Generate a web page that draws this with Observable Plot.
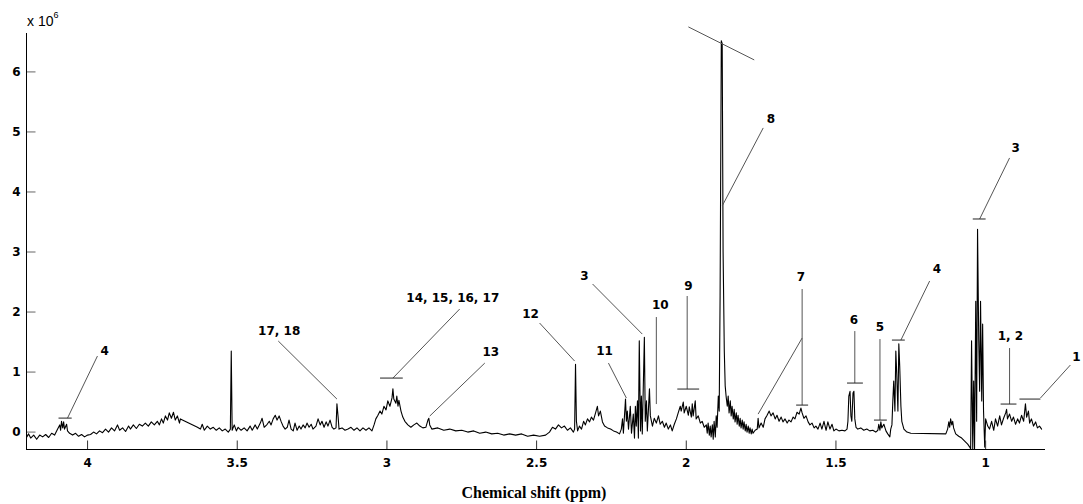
<!DOCTYPE html>
<html>
<head>
<meta charset="utf-8">
<script src="https://cdn.jsdelivr.net/npm/d3@7"></script>
<script src="https://cdn.jsdelivr.net/npm/@observablehq/plot@0.6"></script>
<style>
  html, body { margin: 0; padding: 0; background: #fff; }
  #chart { width: 1083px; height: 504px; }
</style>
</head>
<body>
<div id="chart"></div>
<script>
// ---- Spectrum (chemical shift in ppm, intensity in units of 10^6) ----
const shift = [
4.203,4.197,4.19,4.18,4.17,4.16,4.15,4.14,4.13,4.12,4.11,4.10,4.093,4.09,4.087,4.083,4.08,4.077,4.07,4.067,
4.06,4.05,4.04,4.03,4.02,4.01,4.00,3.99,3.98,3.97,3.96,3.95,3.94,3.93,3.92,3.91,3.90,3.893,3.883,3.873,
3.863,3.857,3.847,3.837,3.827,3.817,3.807,3.797,3.787,3.777,3.767,3.76,3.753,3.747,3.74,3.733,3.727,3.72,3.713,3.707,
3.70,3.693,3.69,3.633,3.623,3.617,3.61,3.60,3.59,3.58,3.57,3.56,3.55,3.54,3.53,3.523,3.52,3.517,3.51,3.503,
3.497,3.487,3.477,3.467,3.457,3.45,3.44,3.433,3.423,3.417,3.41,3.40,3.393,3.387,3.38,3.373,3.367,3.36,3.353,3.347,
3.34,3.333,3.327,3.32,3.313,3.307,3.30,3.293,3.287,3.28,3.273,3.267,3.26,3.253,3.247,3.237,3.23,3.223,3.217,3.21,
3.203,3.197,3.19,3.183,3.177,3.17,3.167,3.163,3.16,3.15,3.14,3.13,3.12,3.11,3.10,3.09,3.08,3.07,3.06,3.05,
3.043,3.037,3.03,3.023,3.017,3.01,3.003,2.997,2.99,2.983,2.98,2.977,2.97,2.967,2.963,2.96,2.953,2.947,2.94,2.93,
2.92,2.91,2.90,2.89,2.88,2.87,2.863,2.86,2.857,2.85,2.83,2.81,2.79,2.77,2.75,2.73,2.71,2.69,2.67,2.65,
2.63,2.61,2.59,2.57,2.55,2.53,2.51,2.49,2.47,2.457,2.447,2.437,2.427,2.417,2.407,2.397,2.387,2.377,2.373,2.37,
2.367,2.363,2.357,2.35,2.343,2.337,2.33,2.323,2.317,2.31,2.303,2.297,2.293,2.287,2.28,2.273,2.263,2.253,2.243,2.233,
2.223,2.217,2.213,2.21,2.203,2.2,2.197,2.193,2.187,2.183,2.177,2.173,2.17,2.167,2.163,2.16,2.157,2.153,2.15,2.147,
2.14,2.137,2.133,2.13,2.123,2.12,2.113,2.107,2.1,2.093,2.087,2.08,2.073,2.067,2.06,2.053,2.047,2.04,2.033,2.027,
2.02,2.017,2.01,2.007,2.0,1.993,1.99,1.983,1.98,1.977,1.97,1.967,1.96,1.953,1.947,1.94,1.933,1.93,1.927,1.923,
1.92,1.917,1.913,1.91,1.907,1.903,1.90,1.897,1.893,1.89,1.887,1.883,1.88,1.877,1.873,1.87,1.867,1.863,1.86,1.857,
1.853,1.85,1.847,1.843,1.84,1.837,1.833,1.83,1.827,1.823,1.82,1.817,1.813,1.81,1.807,1.803,1.80,1.797,1.793,1.79,
1.787,1.783,1.78,1.777,1.77,1.763,1.76,1.757,1.75,1.743,1.737,1.73,1.723,1.717,1.71,1.703,1.697,1.69,1.683,1.677,
1.67,1.663,1.657,1.65,1.643,1.637,1.63,1.623,1.617,1.613,1.607,1.6,1.593,1.587,1.58,1.573,1.567,1.56,1.553,1.547,
1.54,1.533,1.527,1.52,1.513,1.507,1.5,1.49,1.48,1.47,1.463,1.46,1.457,1.453,1.45,1.447,1.443,1.44,1.437,1.433,
1.427,1.417,1.407,1.397,1.387,1.377,1.367,1.36,1.357,1.353,1.35,1.347,1.34,1.333,1.327,1.32,1.317,1.313,1.31,1.307,
1.303,1.3,1.297,1.293,1.29,1.287,1.283,1.28,1.273,1.263,1.25,1.133,1.127,1.123,1.12,1.117,1.113,1.11,1.107,1.1,
1.09,1.08,1.07,1.06,1.053,1.05,1.047,1.043,1.04,1.037,1.033,1.03,1.027,1.023,1.02,1.017,1.013,1.01,1.007,1.003,
1.0,0.993,0.987,0.98,0.973,0.967,0.96,0.953,0.947,0.94,0.933,0.93,0.927,0.92,0.913,0.907,0.9,0.893,0.887,0.88,
0.873,0.867,0.863,0.857,0.853,0.847,0.84,0.833,0.827,0.82,0.813
];
const intensity = [
-0.08,-0.03,-0.10,-0.05,-0.12,-0.05,-0.08,-0.04,-0.09,-0.02,-0.05,0.05,0.12,0.03,0.18,0.07,0.17,0.05,0.13,0.02,
-0.02,-0.05,-0.02,-0.07,-0.04,-0.08,-0.05,-0.04,0.0,-0.03,0.02,-0.01,0.05,0.0,0.07,0.02,0.12,0.03,0.07,0.01,
0.10,0.05,0.12,0.06,0.13,0.10,0.15,0.10,0.17,0.12,0.18,0.12,0.22,0.15,0.27,0.20,0.32,0.23,0.33,0.20,
0.27,0.15,0.22,0.08,0.05,0.13,0.03,0.10,0.05,0.08,0.03,0.07,0.02,0.05,0.0,0.05,1.35,0.03,0.12,0.02,
0.08,0.03,0.07,0.02,0.10,0.03,0.12,0.05,0.15,0.23,0.08,0.13,0.18,0.12,0.22,0.28,0.20,0.27,0.17,0.10,
0.05,0.08,0.20,0.05,0.02,0.15,0.03,0.10,0.05,0.12,0.07,0.15,0.08,0.13,0.05,0.10,0.22,0.12,0.18,0.08,
0.17,0.10,0.20,0.08,0.05,0.07,0.47,0.25,0.05,0.07,0.03,0.05,0.08,0.03,0.07,0.02,0.07,0.03,0.07,0.02,
0.12,0.22,0.28,0.35,0.30,0.43,0.37,0.52,0.43,0.57,0.72,0.55,0.48,0.60,0.43,0.53,0.35,0.25,0.18,0.12,
0.08,0.12,0.15,0.10,0.07,0.08,0.20,0.23,0.12,0.05,0.07,0.03,0.05,0.02,0.03,0.0,0.02,-0.02,0.0,-0.03,
-0.02,-0.05,-0.03,-0.05,-0.03,-0.07,-0.05,-0.07,-0.05,0.0,0.08,0.05,0.12,0.07,0.10,0.03,0.07,0.0,0.05,1.13,
0.18,0.02,0.10,0.05,0.18,0.12,0.22,0.17,0.25,0.20,0.32,0.43,0.27,0.35,0.17,0.10,0.07,0.05,0.02,0.0,
-0.03,0.05,0.22,-0.02,0.55,0.18,0.35,0.05,0.43,-0.02,0.30,-0.10,0.43,0.10,0.52,-0.10,1.52,0.02,0.60,-0.03,
1.58,0.18,0.52,0.02,0.72,0.27,0.10,0.23,0.15,0.27,0.13,0.18,0.08,0.15,0.05,0.12,0.02,0.13,0.22,0.32,
0.43,0.35,0.50,0.32,0.43,0.28,0.42,0.25,0.47,0.27,0.52,0.22,0.27,0.15,0.18,0.08,0.12,-0.02,0.15,-0.05,
0.10,-0.08,0.12,-0.12,0.18,-0.08,0.27,0.08,0.60,0.35,2.27,6.52,6.47,3.0,1.35,0.77,0.6,0.43,0.6,0.32,
0.52,0.27,0.43,0.22,0.38,0.17,0.32,0.13,0.28,0.10,0.23,0.07,0.20,0.05,0.17,0.02,0.13,0.0,0.10,-0.02,
0.07,-0.03,0.05,-0.02,0.03,0.05,0.23,0.07,0.15,0.08,0.22,0.28,0.35,0.27,0.32,0.22,0.28,0.18,0.25,0.17,
0.22,0.15,0.20,0.17,0.25,0.22,0.33,0.30,0.40,0.32,0.23,0.27,0.17,0.12,0.15,0.07,0.10,0.05,0.15,0.05,
0.18,0.03,0.17,0.05,0.13,0.02,0.05,0.02,0.03,0.02,0.05,0.18,0.60,0.68,0.27,0.18,0.65,0.68,0.22,0.08,
0.05,0.07,0.03,0.05,0.02,0.03,0.0,0.03,0.13,0.03,0.17,0.07,0.13,0.02,-0.03,-0.08,0.05,0.12,0.52,0.85,
0.35,1.35,0.98,0.35,1.47,1.10,0.43,0.18,0.05,0.0,-0.02,-0.03,0.05,0.17,0.08,0.22,0.12,0.18,0.07,-0.03,
-0.07,-0.10,-0.15,-0.20,-0.25,-0.28,1.52,-0.28,0.85,-0.28,2.18,0.18,3.38,1.52,0.68,2.18,0.52,1.8,0.35,-0.25,
0.22,0.10,0.05,0.18,0.03,0.22,0.10,0.27,0.12,0.23,0.32,0.38,0.22,0.30,0.18,0.25,0.13,0.22,0.15,0.28,
0.18,0.47,0.25,0.35,0.15,0.22,0.10,0.17,0.07,0.10,0.05
];

// ---- Axis ticks ----
const xTicks = [4, 3.5, 3, 2.5, 2, 1.5, 1];
const yTicks = [0, 1, 2, 3, 4, 5, 6];

// ---- Peak annotations ----
const labelText  = ["4","17, 18","14, 15, 16, 17","13","12","3","11","10","9","8","7","6","5","4","3","1, 2","1"];
const labelShift = [3.943,3.36,2.78,2.653,2.52,2.34,2.273,2.087,1.993,1.717,1.617,1.44,1.353,1.163,0.9,0.917,0.697];
const labelValue = [1.35,1.683,2.233,1.333,1.967,2.6,1.35,2.117,2.433,5.217,2.583,1.867,1.75,2.717,4.733,1.6,1.25];

// leader lines: start (near label) -> end (near peak)
const leaderX1 = [3.967,3.363,2.757,2.673,2.49,2.313,2.26,2.1,1.997,1.743,1.993,1.613,1.613,1.437,1.353,1.187,0.92,0.92,0.717];
const leaderY1 = [1.267,1.517,2.05,1.15,1.817,2.467,1.15,1.917,2.267,5.067,6.75,2.383,1.567,1.683,1.55,2.517,4.567,1.4,1.117];
const leaderX2 = [4.067,3.167,2.98,2.857,2.373,2.147,2.2,2.1,1.997,1.88,1.773,1.613,1.76,1.437,1.353,1.283,1.02,0.92,0.817];
const leaderY2 = [0.233,0.55,0.9,0.267,1.183,1.633,0.567,0.467,0.717,3.767,6.2,0.45,0.3,0.817,0.2,1.533,3.55,0.467,0.567];

// short horizontal brackets over multiplets
const bracketX1 = [4.097,3.023,2.03,1.633,1.463,1.373,1.313,1.043,0.95,0.887];
const bracketX2 = [4.053,2.947,1.957,1.593,1.41,1.33,1.27,1.0,0.897,0.817];
const bracketY  = [0.233,0.9,0.717,0.45,0.817,0.2,1.533,3.55,0.467,0.55];

// ---- Build tables ----
const spectrum = shift.map((s, i) => ({shift: s, intensity: intensity[i]}));
const labels = labelText.map((t, i) => ({text: t, x: labelShift[i], y: labelValue[i]}));
const leaders = leaderX1.map((x, i) => ({x1: x, y1: leaderY1[i], x2: leaderX2[i], y2: leaderY2[i]}));
const brackets = bracketX1.map((x, i) => ({x1: x, x2: bracketX2[i], y: bracketY[i]}));

const xDomain = [4.204, 0.8];
const yDomain = [-0.29, 6.64];
const pxPerPpm = 1019 / (xDomain[0] - xDomain[1]);
const pxPerUnit = 416 / (yDomain[1] - yDomain[0]);
const tickLen = 9;
const sans = "DejaVu Sans, Verdana, sans-serif";

const plot = Plot.plot({
  width: 1083,
  height: 504,
  marginLeft: 26,
  marginRight: 38,
  marginTop: 33,
  marginBottom: 55,
  style: {fontFamily: sans, fontSize: "12px", fontWeight: "bold", color: "#000", background: "#fff"},
  x: {domain: xDomain, ticks: xTicks, tickSize: 0, tickPadding: 9, tickFormat: d => String(d), label: null},
  y: {domain: yDomain, ticks: yTicks, tickSize: 0, tickPadding: 6, tickFormat: d => String(d), label: null},
  marks: [
    Plot.line(spectrum, {x: "shift", y: "intensity", stroke: "#000", strokeWidth: 1.1}),
    // inward tick marks
    Plot.link(xTicks, {x1: d => d, x2: d => d, y1: yDomain[0], y2: yDomain[0] + tickLen / pxPerUnit, stroke: "#333"}),
    Plot.link(yTicks, {y1: d => d, y2: d => d, x1: xDomain[0], x2: xDomain[0] - tickLen / pxPerPpm, stroke: "#666"}),
    // axis lines
    Plot.ruleY([yDomain[0]], {stroke: "#000", strokeWidth: 1}),
    Plot.ruleX([xDomain[0]], {stroke: "#000", strokeWidth: 1}),
    // annotations
    Plot.link(leaders, {x1: "x1", y1: "y1", x2: "x2", y2: "y2", stroke: "#555", strokeWidth: 1}),
    Plot.link(brackets, {x1: "x1", x2: "x2", y1: "y", y2: "y", stroke: "#222", strokeWidth: 1}),
    Plot.text(labels, {x: "x", y: "y", text: "text", fill: "#000", fontSize: 12, fontWeight: "bold", textAnchor: "middle"})
  ]
});

const svg = d3.select(plot);
// enforce one font for every axis/tick text (d3-style axes set their own 10px size)
svg.selectAll("g[font-size]").attr("font-size", 12);
svg.selectAll("g[font-family]").attr("font-family", sans);
svg.selectAll("text").attr("font-size", 12).style("font-size", "12px").style("font-weight", "bold");
// exponent label
const ex = svg.append("text").attr("x", 27).attr("y", 26).attr("text-anchor", "start")
  .attr("font-family", "Liberation Sans, Arial, sans-serif")
  .style("font-weight", "normal").style("font-size", "14px").attr("fill", "#000");
ex.append("tspan").text("x 10");
ex.append("tspan").style("font-size", "9px").attr("dy", -8).text("6");
// x-axis title
svg.append("text").attr("x", 534).attr("y", 498).attr("text-anchor", "middle")
  .attr("font-family", "Liberation Serif, Times New Roman, serif").style("font-weight", "bold")
  .style("font-size", "16px").attr("fill", "#000").text("Chemical shift (ppm)");

document.getElementById("chart").appendChild(plot);
</script>
</body>
</html>
